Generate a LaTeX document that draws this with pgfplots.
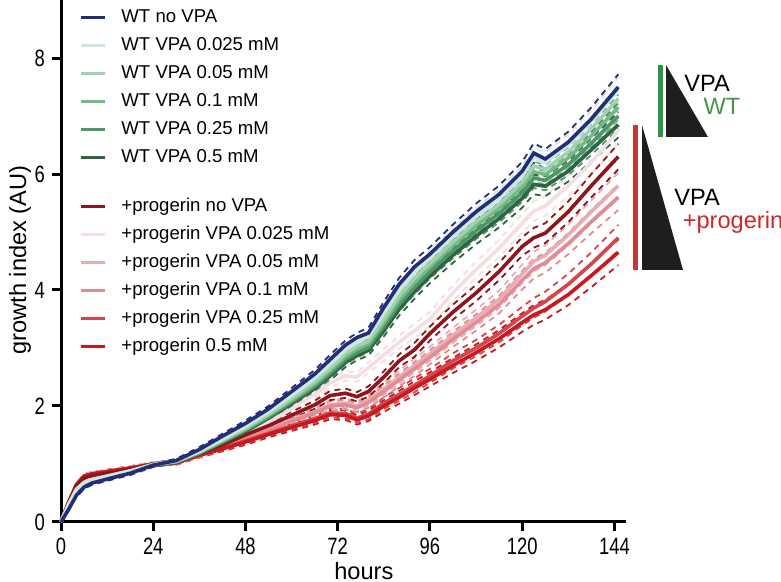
\documentclass[border=0pt]{standalone}
\usepackage{pgfplots}
\pgfplotsset{compat=1.18}
\usepackage{pgfplotstable}
\usepackage{fontspec}
\setmainfont{Liberation Sans}
\newfontfamily\narrowfont[FakeStretch=0.78]{Liberation Sans}

\definecolor{wtA}{RGB}{36,46,120}
\definecolor{wtB}{RGB}{205,232,220}
\definecolor{wtC}{RGB}{160,210,178}
\definecolor{wtD}{RGB}{115,186,135}
\definecolor{wtE}{RGB}{78,150,100}
\definecolor{wtF}{RGB}{45,100,65}
\definecolor{pgA}{RGB}{140,22,28}
\definecolor{pgB}{RGB}{245,222,226}
\definecolor{pgC}{RGB}{232,172,180}
\definecolor{pgD}{RGB}{225,140,148}
\definecolor{pgE}{RGB}{212,70,75}
\definecolor{pgF}{RGB}{200,25,32}
\definecolor{barG}{RGB}{40,150,70}
\definecolor{txtG}{RGB}{70,150,70}
\definecolor{barR}{RGB}{200,55,55}
\definecolor{txtR}{RGB}{205,40,40}
\definecolor{tri}{RGB}{30,30,30}

\pgfplotstableread{
t    wtA  wtB  wtC  wtD  wtE  wtF  pgA  pgB  pgC  pgD  pgE  pgF  e
0    0    0    0    0    0    0    0    0    0    0    0    0    0
2    0.22 0.3  0.3  0.3  0.3  0.3  0.32 0.34 0.34 0.34 0.34 0.34 0.02
4    0.46 0.56 0.56 0.55 0.55 0.55 0.62 0.64 0.64 0.64 0.64 0.64 0.03
6    0.6  0.68 0.68 0.67 0.67 0.67 0.76 0.78 0.79 0.79 0.79 0.79 0.03
8    0.67 0.73 0.73 0.72 0.72 0.72 0.8  0.82 0.83 0.83 0.83 0.83 0.03
12   0.74 0.79 0.79 0.78 0.78 0.78 0.84 0.86 0.86 0.86 0.87 0.87 0.03
18   0.84 0.88 0.88 0.87 0.87 0.87 0.91 0.92 0.93 0.93 0.93 0.93 0.03
24   0.98 0.99 0.99 0.99 0.98 0.98 0.99 1.0  1.0  1.0  1.0  1.0  0.03
30   1.06 1.05 1.05 1.04 1.04 1.03 1.04 1.04 1.03 1.03 1.02 1.02 0.03
36   1.25 1.22 1.21 1.2  1.19 1.18 1.18 1.19 1.16 1.16 1.15 1.15 0.04
42   1.48 1.43 1.41 1.4  1.38 1.37 1.33 1.34 1.3  1.29 1.27 1.26 0.04
48   1.7  1.65 1.62 1.6  1.58 1.56 1.5  1.52 1.45 1.43 1.4  1.38 0.05
54   1.95 1.9  1.86 1.84 1.81 1.79 1.66 1.72 1.6  1.58 1.53 1.51 0.05
60   2.25 2.18 2.13 2.1  2.07 2.04 1.84 1.95 1.76 1.74 1.66 1.63 0.06
66   2.55 2.48 2.42 2.38 2.34 2.3  2.02 2.2  1.9  1.88 1.78 1.75 0.07
70   2.8  2.72 2.65 2.61 2.56 2.52 2.18 2.4  2.02 2.0  1.88 1.85 0.08
74   3.05 2.97 2.9  2.85 2.8  2.75 2.22 2.52 2.05 2.02 1.87 1.84 0.08
77   3.18 3.1  3.03 2.98 2.92 2.87 2.16 2.5  2.0  1.97 1.79 1.76 0.08
80   3.26 3.2  3.12 3.07 3.01 2.96 2.25 2.66 2.1  2.06 1.86 1.83 0.09
84   3.7  3.6  3.5  3.44 3.37 3.3  2.5  2.88 2.3  2.25 2.05 2.0  0.1
88   4.1  4.0  3.9  3.83 3.75 3.67 2.78 3.1  2.5  2.45 2.2  2.15 0.11
92   4.4  4.3  4.2  4.13 4.05 3.97 2.97 3.3  2.7  2.64 2.36 2.31 0.12
96   4.62 4.55 4.46 4.4  4.32 4.24 3.25 3.5  2.9  2.84 2.52 2.46 0.12
102  5.0  4.92 4.83 4.77 4.68 4.6  3.62 3.95 3.22 3.15 2.78 2.7  0.13
108  5.35 5.27 5.18 5.11 5.02 4.93 3.95 4.35 3.52 3.44 3.0  2.92 0.14
114  5.65 5.58 5.48 5.41 5.32 5.23 4.32 4.72 3.84 3.75 3.25 3.16 0.15
120  6.05 5.97 5.86 5.78 5.68 5.58 4.75 5.15 4.28 4.17 3.55 3.44 0.16
123  6.36 6.28 6.14 6.04 5.93 5.82 4.9  5.36 4.49 4.37 3.69 3.57 0.17
126  6.26 6.2  6.08 5.99 5.89 5.79 4.98 5.45 4.6  4.47 3.8  3.66 0.17
132  6.55 6.5  6.38 6.28 6.16 6.05 5.35 5.8  4.95 4.8  4.1  3.92 0.18
138  6.95 6.9  6.78 6.66 6.53 6.42 5.8  6.2  5.35 5.18 4.45 4.25 0.2
145  7.5  7.45 7.3  7.15 7.0  6.85 6.3  6.75 5.8  5.6  4.9  4.65 0.22
}\growth

\newcommand{\sdband}[1]{%
  \addplot[#1, line width=0.9pt, dash pattern=on 3pt off 2.5pt, forget plot] table[x=t, y expr=\thisrow{#1}+\thisrow{e}] {\growth};
  \addplot[#1, line width=0.9pt, dash pattern=on 3pt off 2.5pt, forget plot] table[x=t, y expr=\thisrow{#1}-\thisrow{e}] {\growth};
}
\newcommand{\meanline}[1]{%
  \addplot[#1, line width=1.8pt, forget plot] table[x=t, y=#1] {\growth};
}

\pgfplotsset{
  mylegend/.style={
    legend cell align=left,
    legend image code/.code={\draw[##1] (0pt,0pt) -- (12pt,0pt);},
    legend style={draw=none, fill=none, inner sep=0pt, row sep=5pt, column sep=7.5pt,
      font=\fontsize{9.3}{11}\selectfont,
      nodes={inner sep=0pt, text height=7pt, text depth=2pt}},
  }
}

\begin{document}
\begin{tikzpicture}
\begin{axis}[
  at={(0pt,0pt)}, anchor=south west,
  scale only axis, width=282.5pt, height=261pt,
  xmin=0, xmax=147, ymin=0, ymax=9,
  clip=false,
  axis lines*=left,
  axis line style={line width=1.5pt, black},
  xtick={0,24,48,72,96,120,144},
  ytick={0,2,4,6,8},
  tick align=outside, major tick length=4.5pt,
  tick style={line width=1.5pt, black},
  /pgf/number format/assume math mode=true,
  ticklabel style={font=\narrowfont\fontsize{11.8}{13}\selectfont},
  xlabel={hours}, ylabel={growth index (AU)},
  label style={font=\fontsize{11.8}{13}\selectfont},
  xlabel style={at={(axis description cs:0.536,-0.094)}, anchor=center},
  ylabel style={at={(axis description cs:-0.0726,0.502)}, anchor=center},
  mylegend,
  legend style={at={(axis description cs:0.0319,0.985)}, anchor=north west},
]
\sdband{pgF}\sdband{pgE}\sdband{pgD}\sdband{pgC}\sdband{pgB}\sdband{pgA}
\sdband{wtB}\sdband{wtC}\sdband{wtD}\sdband{wtE}\sdband{wtF}\sdband{wtA}
\meanline{pgB}\meanline{pgC}\meanline{pgD}\meanline{pgE}\meanline{pgF}\meanline{pgA}
\meanline{wtF}\meanline{wtE}\meanline{wtD}\meanline{wtC}\meanline{wtB}\meanline{wtA}
\addlegendimage{wtA, line width=1.5pt}\addlegendentry{WT no VPA}
\addlegendimage{wtB, line width=1.5pt}\addlegendentry{WT VPA 0.025 mM}
\addlegendimage{wtC, line width=1.5pt}\addlegendentry{WT VPA 0.05 mM}
\addlegendimage{wtD, line width=1.5pt}\addlegendentry{WT VPA 0.1 mM}
\addlegendimage{wtE, line width=1.5pt}\addlegendentry{WT VPA 0.25 mM}
\addlegendimage{wtF, line width=1.5pt}\addlegendentry{WT VPA 0.5 mM}
\end{axis}
\begin{axis}[
  at={(0pt,0pt)}, anchor=south west,
  scale only axis, width=282.5pt, height=261pt,
  xmin=0, xmax=147, ymin=0, ymax=9,
  hide axis,
  mylegend,
  legend style={at={(axis description cs:0.0319,0.6226)}, anchor=north west},
]
\addlegendimage{pgA, line width=1.5pt}\addlegendentry{+progerin no VPA}
\addlegendimage{pgB, line width=1.5pt}\addlegendentry{+progerin VPA 0.025 mM}
\addlegendimage{pgC, line width=1.5pt}\addlegendentry{+progerin VPA 0.05 mM}
\addlegendimage{pgD, line width=1.5pt}\addlegendentry{+progerin VPA 0.1 mM}
\addlegendimage{pgE, line width=1.5pt}\addlegendentry{+progerin VPA 0.25 mM}
\addlegendimage{pgF, line width=1.5pt}\addlegendentry{+progerin 0.5 mM}
\end{axis}
% VPA gradient annotations
\fill[barG] (298.5pt,192.5pt) rectangle (301pt,228.5pt);
\fill[tri] (302.5pt,228.5pt) -- (302.5pt,192.5pt) -- (323.5pt,192.5pt) -- cycle;
\node[font=\fontsize{11.8}{13}\selectfont] at (323pt,219.5pt) {VPA};
\node[font=\fontsize{11.8}{13}\selectfont, text=txtG] at (330.5pt,208pt) {WT};
\fill[barR] (286pt,126pt) rectangle (288.5pt,198.5pt);
\fill[tri] (290.5pt,198.5pt) -- (290.5pt,126pt) -- (311pt,126pt) -- cycle;
\node[font=\fontsize{11.8}{13}\selectfont] at (318pt,162.5pt) {VPA};
\node[font=\fontsize{11.8}{13}\selectfont, text=txtR] at (336pt,150pt) {+progerin};
\pgfresetboundingbox
\path[use as bounding box] (-30.5pt,-30pt) rectangle (360pt,261pt);
\end{tikzpicture}
\end{document}
